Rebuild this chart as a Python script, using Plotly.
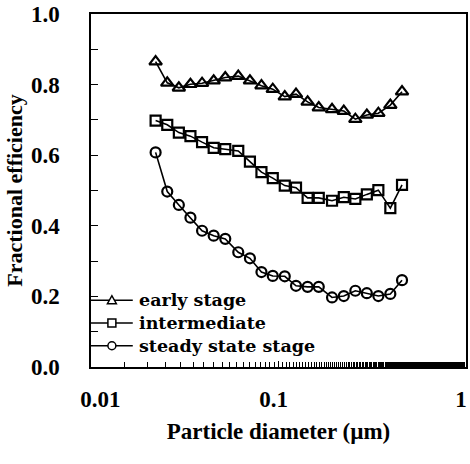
import plotly.graph_objects as go

# ---- data ----
diameter_um = [0.0221, 0.0255, 0.0294, 0.0339, 0.0391, 0.0451, 0.0520, 0.0610,
               0.0704, 0.0811, 0.0932, 0.108, 0.124, 0.143, 0.164, 0.193,
               0.223, 0.257, 0.296, 0.341, 0.395, 0.456]
early_stage = [0.865, 0.805, 0.791, 0.801, 0.804, 0.811, 0.820, 0.824, 0.811,
               0.797, 0.787, 0.766, 0.773, 0.751, 0.735, 0.730, 0.725, 0.702,
               0.714, 0.719, 0.742, 0.780]
intermediate = [0.698, 0.686, 0.664, 0.654, 0.637, 0.621, 0.617, 0.612, 0.582,
                0.552, 0.535, 0.514, 0.508, 0.479, 0.479, 0.471, 0.481, 0.476,
                0.489, 0.501, 0.450, 0.516]
steady_state = [0.608, 0.497, 0.459, 0.423, 0.386, 0.372, 0.363, 0.325, 0.308,
                0.269, 0.258, 0.257, 0.230, 0.227, 0.227, 0.197, 0.201, 0.216,
                0.209, 0.201, 0.207, 0.246]
series_names = ["early stage", "intermediate", "steady state stage"]
x_tick_vals = [0.01, 0.1, 1]
x_tick_text = ["0.01", "0.1", "1"]

FONT = "Liberation Serif"
LEG_FONT = "DejaVu Serif"
W, H = 470, 464
L, R, T, B = 91, 2, 14, 97
PW, PH = W - L - R, H - T - B

fig = go.Figure()
symbols = ["triangle-up-open", "square-open", "circle-open"]
sizes = [11, 10, 10]
for name, ys, sym, sz in zip(series_names, [early_stage, intermediate, steady_state], symbols, sizes):
    fig.add_trace(go.Scatter(
        x=diameter_um, y=ys, name=name, mode="lines+markers",
        line=dict(color="black", width=1.6),
        marker=dict(symbol=sym, size=sz, color="black", line=dict(width=2.2, color="black")),
        showlegend=False,
    ))

# ---- hand-drawn compact legend, like the reference ----
def px(xp):
    return (xp - L) / PW

def py(yp):
    return (T + PH - yp) / PH

LEG_SIZE = 17.5
line_gap = 1.3 * LEG_SIZE
mid_row = 323
rows = [mid_row - line_gap, mid_row, mid_row + line_gap]
shapes = []
for i, yrow in enumerate(rows):
    shapes.append(dict(type="line", xref="paper", yref="paper",
                       x0=px(91), x1=px(133), y0=py(yrow), y1=py(yrow),
                       line=dict(color="black", width=1.5)))
    cx = 112
    if i == 0:
        path = "M {} {} L {} {} L {} {} Z".format(px(cx - 4.5), py(yrow + 3.5), px(cx + 4.5), py(yrow + 3.5), px(cx), py(yrow - 4.5))
        shapes.append(dict(type="path", xref="paper", yref="paper", path=path,
                           fillcolor="white", line=dict(color="black", width=1.5)))
    elif i == 1:
        shapes.append(dict(type="rect", xref="paper", yref="paper",
                           x0=px(cx - 4), x1=px(cx + 4), y0=py(yrow + 4), y1=py(yrow - 4),
                           fillcolor="white", line=dict(color="black", width=1.5)))
    else:
        shapes.append(dict(type="circle", xref="paper", yref="paper",
                           x0=px(cx - 4), x1=px(cx + 4), y0=py(yrow + 4), y1=py(yrow - 4),
                           fillcolor="white", line=dict(color="black", width=1.5)))

legend_text = "<br>".join("<b>" + n + "</b>" for n in series_names)
annotations = [dict(xref="paper", yref="paper", x=px(137), y=py(mid_row),
                    xanchor="left", yanchor="middle", align="left", showarrow=False,
                    text=legend_text, font=dict(family=LEG_FONT, size=LEG_SIZE, color="black"))]

fig.update_layout(
    width=W, height=H,
    margin=dict(l=L, r=R, t=T, b=B),
    paper_bgcolor="white", plot_bgcolor="white",
    font=dict(family=FONT, color="black"),
    showlegend=False,
    shapes=shapes, annotations=annotations,
    xaxis=dict(
        type="log", range=[-2.0003, 0.0003],
        tickvals=x_tick_vals,
        ticktext=["<b>" + ("\u00a0" * 5 if t == "0.01" else "") + t + "</b>" for t in x_tick_text],
        ticks="inside", ticklen=6, tickwidth=1.2, tickcolor="black",
        minor=dict(ticks="inside", ticklen=5, tickwidth=1.2, tickcolor="black", showgrid=False),
        showline=True, linecolor="black", linewidth=1.5, mirror=True,
        showgrid=False, zeroline=False,
        tickfont=dict(family=FONT, size=23, color="black"),
        ticklabelstandoff=11, ticklabelshift=-5,
        title=dict(text="<b>Particle diameter (µm)</b>", font=dict(family=FONT, size=23, color="black"), standoff=12),
    ),
    yaxis=dict(
        range=[0, 1], dtick=0.2, tickformat=".1f",
        tickprefix="<b>", ticksuffix="</b>",
        ticks="inside", ticklen=7, tickwidth=1.2, tickcolor="black",
        minor=dict(dtick=0.1, ticks="inside", ticklen=7, tickwidth=1.2, tickcolor="black", showgrid=False),
        showline=True, linecolor="black", linewidth=1.5, mirror=True,
        showgrid=False, zeroline=False,
        tickfont=dict(family=FONT, size=23, color="black"),
        ticklabelstandoff=25,
        title=dict(text="<b>Fractional efficiency</b>", font=dict(family=FONT, size=22, color="black"), standoff=2),
    ),
)

fig.write_html("out.html")
